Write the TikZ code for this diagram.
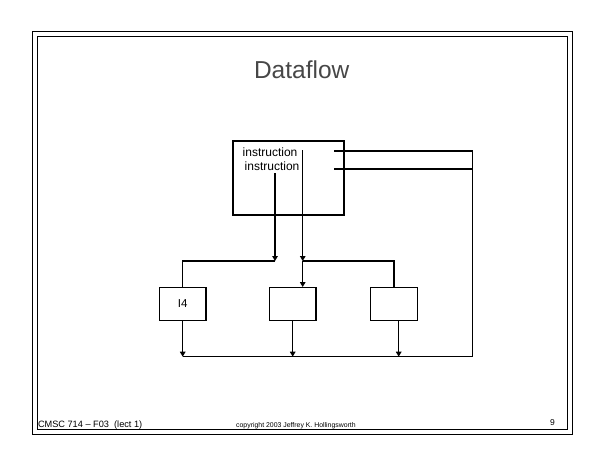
\documentclass[tikz,border=0pt]{standalone}
\usepackage{fontspec}
\setmainfont{Liberation Sans}
\usetikzlibrary{arrows.meta}
\begin{document}
\begin{tikzpicture}[x=1pt,y=-1pt,
  wire/.style={line width=1.3pt},
  arr/.style={wire,-{Triangle[width=5.5pt,length=5pt]}},
  unitbox/.style={draw,line width=1.3pt,rectangle,inner sep=0pt,minimum width=46.7pt,minimum height=32.6pt,font=\fontsize{11.5}{13}\selectfont},
  frameline/.style={line width=1pt},
  lbl/.style={inner sep=0pt,anchor=base west}]
\useasboundingbox (0,0) rectangle (605,467);
% frames
\draw[frameline] (32.3,31.3) rectangle (572.3,434.3);
\draw[frameline] (37.3,36.3) rectangle (567.3,429.3);
% title
\node[inner sep=0pt,anchor=base,text=black!72,font=\fontsize{24.5}{29}\selectfont] (title) at (301.7,78.3) {Dataflow};
% instruction box
\node[draw,line width=1.3pt,rectangle,inner sep=0pt,minimum width=111pt,minimum height=74pt] (ib) at (288.5,178) {};
\node[lbl,font=\fontsize{12}{14}\selectfont] (t1) at (242.5,156) {instruction};
\node[lbl,font=\fontsize{12}{14}\selectfont] (t2) at (244.5,170) {instruction};
% functional units
\node[unitbox] (b1) at (182.7,304) {I4};
\node[unitbox] (b2) at (292.7,304) {};
\node[unitbox] (b3) at (394,304) {};
% coordinates
\coordinate (s1) at (275,173);
\coordinate (j1) at (275,261);
\coordinate (s2) at (302.7,150);
\coordinate (j2) at (302.7,261);
\coordinate (h1) at (334,151);
\coordinate (h2) at (334,169);
\coordinate (busL) at (182.7,356.7);
\coordinate (busR) at (472.3,356.7);
\coordinate (o3) at (398.7,320.3);
% connectors
\draw[arr] (s1) -- (j1);
\draw[wire] (j1) -| (b1.north);
\draw[arr] (s2) -- (j2);
\draw[arr] (j2) -- (j2 |- b2.north);
\draw[wire] (j2) -| (b3.north);
\draw[arr] (b1.south) -- (b1.south |- busL);
\draw[arr] (b2.south) -- (b2.south |- busL);
\draw[arr] (o3) -- (o3 |- busL);
\draw[wire] (h1) -| (busR) -- (busL);
\draw[wire] (h2) -- (h2 -| busR);
% footer
\node[lbl,font=\fontsize{9.2}{11}\selectfont] (f1) at (37.8,427.4) {CMSC 714 -- F03\ \ (lect 1)};
\node[lbl,font=\fontsize{6.9}{8}\selectfont] (f2) at (236,427.4) {copyright 2003 Jeffrey K. Hollingsworth};
\node[inner sep=0pt,anchor=base,font=\fontsize{8.5}{10}\selectfont] (f3) at (552.5,425.3) {9};
\end{tikzpicture}
\end{document}
